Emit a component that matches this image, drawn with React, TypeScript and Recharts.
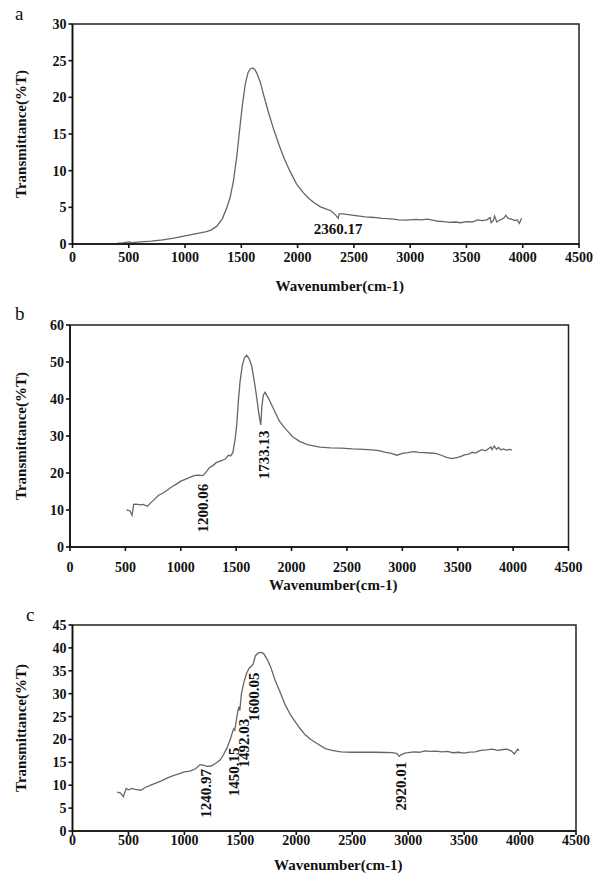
import React from 'react';
import { LineChart, Line, XAxis, YAxis, ReferenceArea, ReferenceDot } from 'recharts';

const xTicks = [0, 500, 1000, 1500, 2000, 2500, 3000, 3500, 4000, 4500];

// panel a
const aWave = [400, 450, 500, 530, 600, 700, 800, 900, 1000, 1100, 1190, 1230, 1280, 1330, 1370, 1400, 1430, 1460, 1490, 1510, 1535, 1560, 1580, 1600, 1620, 1640, 1670, 1700, 1740, 1790, 1840, 1880, 1930, 1990, 2050, 2100, 2150, 2200, 2250, 2300, 2340, 2360, 2370, 2400, 2450, 2500, 2550, 2600, 2650, 2700, 2750, 2800, 2850, 2900, 2950, 3000, 3050, 3100, 3150, 3200, 3250, 3300, 3350, 3400, 3450, 3500, 3550, 3600, 3640, 3680, 3710, 3720, 3740, 3750, 3770, 3800, 3830, 3850, 3870, 3900, 3930, 3950, 3970, 3990];
const aT = [0.1, 0.15, 0.3, 0.2, 0.3, 0.4, 0.55, 0.8, 1.1, 1.4, 1.7, 1.9, 2.4, 3.4, 4.9, 6.3, 8.6, 12.0, 16.3, 19.0, 21.8, 23.4, 23.9, 24.0, 23.8, 23.2, 22.0, 20.2, 18.0, 15.5, 13.3, 11.7, 10.0, 8.2, 7.0, 6.2, 5.6, 5.1, 4.8, 4.5, 3.9, 3.5, 4.1, 4.1, 4.0, 3.9, 3.8, 3.7, 3.65, 3.6, 3.5, 3.45, 3.4, 3.3, 3.25, 3.3, 3.35, 3.3, 3.4, 3.25, 3.1, 3.05, 2.95, 3.0, 2.9, 3.05, 3.0, 3.3, 3.2, 3.3, 3.6, 2.9, 3.2, 3.8, 3.0, 3.3, 3.5, 3.9, 3.5, 3.4, 3.2, 3.3, 2.8, 3.5];
const aYTicks = [0, 5, 10, 15, 20, 25, 30];
const aPeakText = ['2360.17'];
const aPeakX = [2360];
const aPeakY = [2.0];

// panel b
const bWave = [510, 540, 560, 575, 600, 630, 660, 700, 730, 760, 800, 840, 880, 920, 960, 1000, 1040, 1080, 1120, 1160, 1200, 1230, 1260, 1290, 1320, 1360, 1400, 1430, 1450, 1470, 1490, 1505, 1520, 1535, 1555, 1575, 1595, 1615, 1640, 1665, 1685, 1705, 1722, 1732, 1745, 1760, 1790, 1835, 1890, 1956, 2010, 2076, 2150, 2257, 2350, 2450, 2550, 2650, 2750, 2800, 2850, 2900, 2950, 3000, 3050, 3100, 3150, 3200, 3250, 3300, 3350, 3400, 3450, 3500, 3530, 3560, 3600, 3630, 3660, 3690, 3720, 3750, 3780, 3800, 3810, 3830, 3850, 3870, 3890, 3910, 3940, 3970, 3990];
const bT = [10.0, 9.8, 8.6, 11.5, 11.6, 11.4, 11.5, 11.0, 12.0, 12.8, 14.0, 14.6, 15.4, 16.3, 17.0, 17.8, 18.3, 18.8, 19.3, 19.4, 19.3, 20.3, 21.5, 22.0, 22.8, 23.3, 23.7, 24.8, 24.6, 25.5, 29.0, 33.0, 39.5, 44.7, 49.0, 51.2, 51.8, 51.0, 49.0, 44.5, 40.5, 36.0, 33.0, 38.0, 41.0, 41.8, 40.3, 37.5, 34.0, 31.6, 29.8, 28.5, 27.6, 27.0, 26.8, 26.7, 26.5, 26.4, 26.2, 26.0, 25.6, 25.3, 24.8, 25.3, 25.5, 25.8, 25.6, 25.5, 25.4, 25.3, 24.8, 24.2, 23.9, 24.2, 24.5, 24.9, 25.1, 25.6, 25.4, 25.9, 26.3, 26.0, 26.6, 27.0, 26.3, 27.3, 26.4, 26.9, 26.2, 26.5, 26.2, 26.4, 26.2];
const bYTicks = [0, 10, 20, 30, 40, 50, 60];
const bPeakText = ['1200.06', '1733.13'];
const bPeakX = [1203, 1749];
const bPeakY = [10.5, 24.9];

// panel c
const cWave = [400, 430, 455, 470, 480, 500, 530, 560, 590, 610, 650, 700, 750, 800, 850, 900, 950, 1000, 1050, 1100, 1140, 1170, 1200, 1240, 1280, 1320, 1350, 1380, 1410, 1430, 1440, 1450, 1465, 1480, 1490, 1495, 1510, 1530, 1555, 1580, 1600, 1615, 1635, 1660, 1690, 1710, 1740, 1770, 1810, 1854, 1900, 1950, 1973, 2030, 2080, 2130, 2200, 2260, 2320, 2400, 2500, 2600, 2700, 2800, 2860, 2900, 2920, 2940, 2970, 3000, 3050, 3100, 3150, 3200, 3250, 3300, 3350, 3400, 3450, 3500, 3550, 3600, 3650, 3700, 3750, 3800, 3850, 3880, 3920, 3950, 3965, 3980, 3990];
const cT = [8.5, 8.3, 7.5, 8.6, 9.3, 9.0, 9.3, 9.1, 9.0, 8.9, 9.5, 10.0, 10.5, 11.0, 11.6, 12.1, 12.5, 12.9, 13.1, 13.6, 14.5, 14.4, 14.1, 14.2, 14.8, 15.5, 16.7, 18.1, 20.0, 21.6, 22.3, 22.0, 24.3, 26.5, 27.2, 26.3, 30.0, 32.3, 34.4, 35.6, 36.0, 36.5, 38.3, 38.9, 39.0, 38.7, 37.5, 35.9, 33.0, 30.4, 27.6, 25.3, 24.5, 22.5, 21.0, 20.0, 18.9, 18.0, 17.6, 17.3, 17.2, 17.2, 17.2, 17.15, 17.1, 16.9, 16.3, 16.7, 17.0, 17.1, 17.3, 17.2, 17.5, 17.4, 17.45, 17.3, 17.4, 17.1, 17.2, 17.0, 17.25, 17.3, 17.6, 17.7, 17.9, 17.6, 17.8, 17.9, 17.5, 16.8, 17.4, 17.9, 17.5];
const cYTicks = [0, 5, 10, 15, 20, 25, 30, 35, 40, 45];
const cPeakText = ['1240.97', '1450.15', '1492.03', '1600.05', '2920.01'];
const cPeakX = [1196, 1445, 1537, 1620, 2933];
const cPeakY = [8.2, 12.9, 19.2, 29.3, 9.8];

const serif = '"Liberation Serif", "Times New Roman", serif';
const ink = '#111';

const makePeakLabel = (text: string, vertical: boolean) => (props: any) => {
  const vb = props.viewBox || {};
  const cx = (vb.x || 0) + (vb.width || 0) / 2;
  const cy = (vb.y || 0) + (vb.height || 0) / 2;
  return (
    <text
      x={cx}
      y={cy}
      textAnchor="middle"
      dominantBaseline="central"
      transform={vertical ? `rotate(-90 ${cx} ${cy})` : undefined}
      fontFamily={serif}
      fontWeight="bold"
      fontSize={15}
      fill={ink}
    >
      {text}
    </text>
  );
};

type PanelProps = {
  letter: string;
  top: number;
  height: number;
  margin: { top: number; right: number; bottom: number; left: number };
  yWidth: number;
  xAxisHeight: number;
  xTickMargin: number;
  titleOffset: number;
  wave: number[];
  values: number[];
  yMax: number;
  yTicks: number[];
  peakText: string[];
  peakX: number[];
  peakY: number[];
  vertical: boolean;
  letterPos: [number, number];
};

const Panel = (p: PanelProps) => {
  const data = p.wave.map((w, i) => ({ x: w, t: p.values[i] }));
  const tickStyle = { fontFamily: serif, fontWeight: 'bold', fontSize: 14, fill: ink };
  return (
    <div style={{ position: 'absolute', left: 0, top: p.top, width: 595, height: p.height }}>
      <div
        style={{
          position: 'absolute',
          left: p.letterPos[0],
          top: p.letterPos[1],
          fontFamily: serif,
          fontSize: 19,
          lineHeight: '19px',
          color: ink,
        }}
      >
        {p.letter}
      </div>
      <LineChart width={595} height={p.height} data={p.wave.length ? data : []} margin={p.margin}>
        <XAxis
          dataKey="x"
          type="number"
          domain={[0, 4500]}
          ticks={xTicks}
          interval={0}
          height={p.xAxisHeight}
          stroke={ink}
          strokeWidth={1.6}
          tickSize={4}
          tickMargin={p.xTickMargin}
          tick={tickStyle}
          label={{
            content: (lp: any) => {
              const vb = lp.viewBox || {};
              const cx = vb.x + vb.width / 2 + 14;
              const y = vb.y + vb.height - p.titleOffset;
              return (
                <text x={cx} y={y} textAnchor="middle" fontFamily={serif} fontWeight="bold" fontSize={15} fill={ink}>
                  Wavenumber(cm-1)
                </text>
              );
            },
          }}
        />
        <YAxis
          type="number"
          domain={[0, p.yMax]}
          ticks={p.yTicks}
          interval={0}
          width={p.yWidth}
          stroke={ink}
          strokeWidth={1.6}
          tickSize={4}
          tickMargin={2}
          tick={tickStyle}
          label={{
            content: (lp: any) => {
              const vb = lp.viewBox || {};
              const cx = 21;
              const cy = vb.y + vb.height / 2;
              return (
                <text
                  x={cx}
                  y={cy}
                  textAnchor="middle"
                  dominantBaseline="central"
                  transform={`rotate(-90 ${cx} ${cy})`}
                  fontFamily={serif}
                  fontWeight="bold"
                  fontSize={15}
                  fill={ink}
                >
                  Transmittance(%T)
                </text>
              );
            },
          }}
        />
        <ReferenceArea x1={0} x2={4500} y1={0} y2={p.yMax} fill="none" stroke="#222" strokeWidth={1.5} />
        <Line
          type="linear"
          dataKey="t"
          stroke="#666"
          strokeWidth={1.3}
          dot={false}
          isAnimationActive={false}
        />
        {p.peakText.map((txt, i) => (
          <ReferenceDot
            key={txt}
            x={p.peakX[i]}
            y={p.peakY[i]}
            r={0}
            fill="none"
            stroke="none"
            label={{ content: makePeakLabel(txt, p.vertical) }}
          />
        ))}
      </LineChart>
    </div>
  );
};

export default function App() {
  return (
    <div style={{ position: 'absolute', left: 0, top: 0, width: 595, height: 877, background: '#fff', overflow: 'hidden' }}>
      <Panel
        letter="a"
        top={0}
        height={300}
        margin={{ top: 24, right: 16, bottom: 6, left: 12 }}
        yWidth={60.5}
        xAxisHeight={50}
        xTickMargin={4}
        titleOffset={3}
        wave={aWave}
        values={aT}
        yMax={30}
        yTicks={aYTicks}
        peakText={aPeakText}
        peakX={aPeakX}
        peakY={aPeakY}
        vertical={false}
        letterPos={[15, 4]}
      />
      <Panel
        letter="b"
        top={300}
        height={300}
        margin={{ top: 25, right: 26.5, bottom: 5, left: 10 }}
        yWidth={60}
        xAxisHeight={48}
        xTickMargin={11}
        titleOffset={5}
        wave={bWave}
        values={bT}
        yMax={60}
        yTicks={bYTicks}
        peakText={bPeakText}
        peakX={bPeakX}
        peakY={bPeakY}
        vertical={true}
        letterPos={[15, 4]}
      />
      <Panel
        letter="c"
        top={600}
        height={277}
        margin={{ top: 25, right: 19, bottom: 2, left: 12 }}
        yWidth={60.5}
        xAxisHeight={44}
        xTickMargin={0}
        titleOffset={5}
        wave={cWave}
        values={cT}
        yMax={45}
        yTicks={cYTicks}
        peakText={cPeakText}
        peakX={cPeakX}
        peakY={cPeakY}
        vertical={true}
        letterPos={[26, 5]}
      />
    </div>
  );
}
